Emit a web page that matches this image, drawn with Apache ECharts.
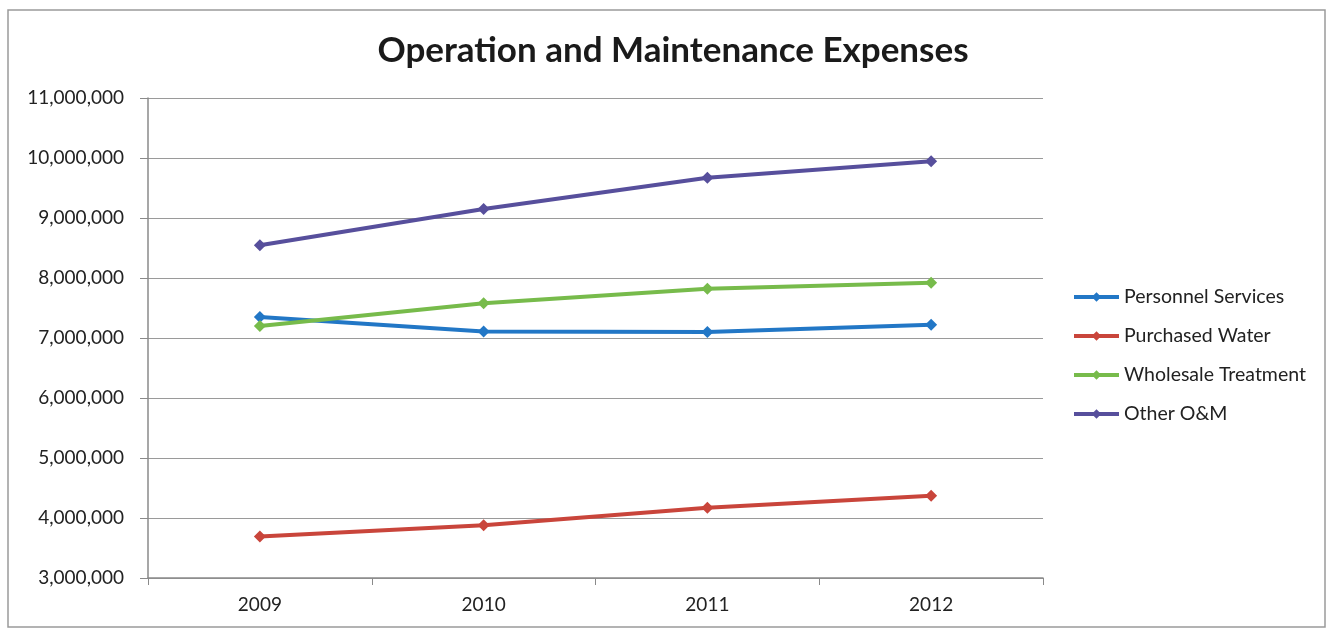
<!DOCTYPE html>
<html>
<head>
<meta charset="utf-8">
<script src="https://cdn.jsdelivr.net/npm/echarts@6/dist/echarts.min.js"></script>
<style>
  html, body { margin: 0; padding: 0; background: #ffffff; }
  #chart { width: 1330px; height: 631px; }
</style>
</head>
<body>
<div id="chart"></div>
<script>
// Fiscal years on the category axis
const years = ['2009', '2010', '2011', '2012'];

// Annual expense totals (dollars)
const personnelServices = [7350000, 7110000, 7100000, 7220000];
const purchasedWater = [3690000, 3880000, 4170000, 4370000];
const wholesaleTreatment = [7200000, 7580000, 7820000, 7920000];
const otherOM = [8545000, 9150000, 9670000, 9945000];

// Value axis range
const yMin = 3000000;
const yMax = 11000000;
const yStep = 1000000;

const font = 'Lato, "Open Sans", sans-serif';

function lineSeries(name, data, color) {
  return {
    name: name,
    type: 'line',
    data: data,
    symbol: 'diamond',
    symbolSize: 12,
    lineStyle: { width: 4, color: color },
    itemStyle: { color: color },
    emphasis: { disabled: true }
  };
}

const chart = echarts.init(document.getElementById('chart'), null, { renderer: 'canvas' });
chart.setOption({
  animation: false,
  backgroundColor: '#ffffff',
  title: {
    text: 'Operation and Maintenance Expenses',
    left: 668,
    textAlign: 'center',
    top: 28,
    textStyle: { fontFamily: font, fontWeight: 'bold', fontSize: 35, color: '#1a1a1a' }
  },
  graphic: [{
    type: 'rect',
    shape: { x: 8, y: 10, width: 1317, height: 617 },
    style: { fill: 'none', stroke: '#9a9a9a', lineWidth: 1.5 },
    silent: true
  }],
  legend: {
    orient: 'vertical',
    left: 1067,
    top: 282,
    itemGap: 19,
    itemWidth: 45,
    itemHeight: 12,
    lineStyle: { width: 4 },
    textStyle: { fontFamily: font, fontSize: 19.5, color: '#222' },
    data: ['Personnel Services', 'Purchased Water', 'Wholesale Treatment', 'Other O&M']
  },
  grid: { left: 148, right: 287, top: 98, bottom: 53 },
  xAxis: {
    type: 'category',
    data: years,
    boundaryGap: true,
    axisLine: { lineStyle: { color: '#8a8a8a', width: 1.5 } },
    axisTick: { show: true, alignWithLabel: false, length: 7, lineStyle: { color: '#8a8a8a' } },
    axisLabel: { fontFamily: font, fontSize: 19, color: '#222', margin: 17 }
  },
  yAxis: {
    type: 'value',
    min: yMin,
    max: yMax,
    interval: yStep,
    axisLine: { show: true, lineStyle: { color: '#8a8a8a', width: 1.5 } },
    axisTick: { show: true, length: 8, lineStyle: { color: '#8a8a8a' } },
    splitLine: { lineStyle: { color: '#9a9a9a', width: 1.2 } },
    axisLabel: {
      fontFamily: font, fontSize: 19, color: '#222', margin: 24,
      formatter: v => v.toLocaleString('en-US')
    }
  },
  series: [
    lineSeries('Personnel Services', personnelServices, '#2277c6'),
    lineSeries('Purchased Water', purchasedWater, '#c9453b'),
    lineSeries('Wholesale Treatment', wholesaleTreatment, '#77bb4b'),
    lineSeries('Other O&M', otherOM, '#574f9c')
  ]
});
</script>
</body>
</html>
